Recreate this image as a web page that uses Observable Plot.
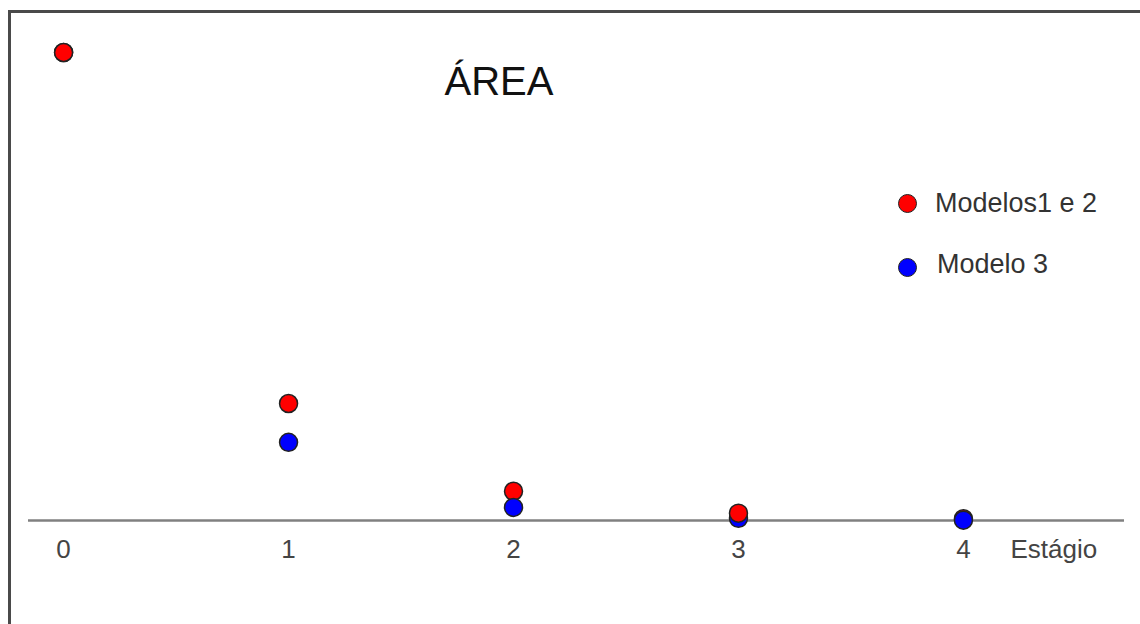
<!DOCTYPE html>
<html>
<head>
<meta charset="utf-8">
<script src="https://cdn.jsdelivr.net/npm/d3@7"></script>
<script src="https://cdn.jsdelivr.net/npm/@observablehq/plot@0.6"></script>
<style>
  html, body { margin: 0; padding: 0; background: #fff; }
  body { font-family: "Liberation Sans", Arial, sans-serif; }
  #wrap { position: relative; width: 1140px; height: 624px; overflow: hidden; }
  #frame { position: absolute; left: 8px; top: 10px; right: -10px; bottom: -10px;
           border-top: 3px solid #4a4a4a; border-left: 3px solid #4a4a4a; pointer-events: none; }
  #title { position: absolute; left: 399px; width: 200px; top: 61px; text-align: center;
           font-size: 40px; line-height: 40px; color: #111; }
  .leg { position: absolute; font-size: 27px; line-height: 27px; color: #333; white-space: nowrap; }
  .sw { position: absolute; width: 19px; height: 19px; border-radius: 50%;
        box-sizing: border-box; border: 1.5px solid #222; }
</style>
</head>
<body>
<div id="wrap">
  <div id="chart"></div>
  <div id="frame"></div>
  <div id="title"></div>
  <div id="legend"></div>
</div>
<script>
// ---- data ----
const title = "ÁREA";
const xLabel = "Estágio";
const stages = [0, 1, 2, 3, 4];
const tickLabels = ["0", "1", "2", "3", "4"];
const seriesNames = ["Modelos1 e 2", "Modelo 3"];
const seriesColors = ["#ff0000", "#0000ff"];
const modelos12 = [1, 0.25, 0.0625, 0.0156, 0.0039];
const modelo3   = [1, 0.167, 0.028, 0.0046, 0.0008];
// drawing order as in the picture (which dot lies on top)
const drawOrder = [
  [1, 0], [0, 0],
  [0, 1], [1, 1],
  [0, 2], [1, 2],
  [1, 3], [0, 3],
  [0, 4], [1, 4]
];

const series = [modelos12, modelo3];
const points = drawOrder.map(([s, i]) => ({
  stage: stages[i], value: series[s][i], model: seriesNames[s]
}));
const ticks = stages.map((s, i) => ({stage: s, label: tickLabels[i]}));

const chart = Plot.plot({
  width: 1140,
  height: 624,
  marginLeft: 28,
  marginRight: 16,
  marginTop: 52,
  marginBottom: 104,
  style: {fontFamily: '"Liberation Sans", Arial, sans-serif', background: "transparent"},
  x: {domain: [-0.156, 4.716], axis: null},
  y: {domain: [0, 1], axis: null},
  color: {domain: seriesNames, range: seriesColors},
  marks: [
    Plot.ruleY([0], {stroke: "#808080", strokeWidth: 2.5}),
    Plot.text(ticks, {x: "stage", y: () => 0, text: "label", dy: 29, fontSize: 26, fill: "#444"}),
    Plot.text([ticks[ticks.length - 1]], {x: "stage", y: () => 0, text: () => xLabel, dx: 47, dy: 29,
      textAnchor: "start", fontSize: 26, fill: "#444"}),
    Plot.dot(points, {x: "stage", y: "value", fill: "model", r: 9, stroke: "#222", strokeWidth: 1.5})
  ]
});
document.getElementById("chart").appendChild(chart);

document.getElementById("title").textContent = title;

const legendPos = [
  {cx: 907, cy: 203, tx: 935, ty: 190},
  {cx: 907, cy: 267, tx: 937, ty: 251}
];
const legend = document.getElementById("legend");
seriesNames.forEach((name, i) => {
  const p = legendPos[i];
  const sw = document.createElement("div");
  sw.className = "sw";
  sw.style.left = (p.cx - 9.5) + "px";
  sw.style.top = (p.cy - 9.5) + "px";
  sw.style.background = seriesColors[i];
  legend.appendChild(sw);
  const t = document.createElement("div");
  t.className = "leg";
  t.style.left = p.tx + "px";
  t.style.top = p.ty + "px";
  t.textContent = name;
  legend.appendChild(t);
});
</script>
</body>
</html>
